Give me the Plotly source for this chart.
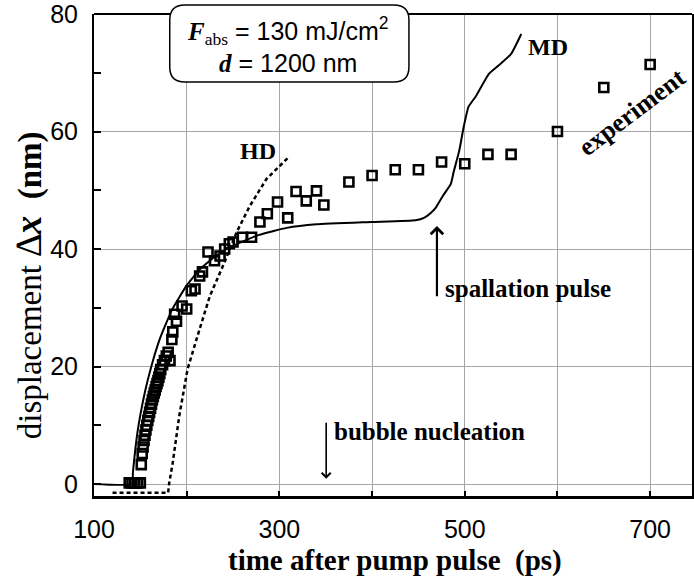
import plotly.graph_objects as go

# ---------------- data ----------------
exp_t = [138, 141, 144, 147, 150, 151, 152, 153, 154, 155, 156, 157, 158, 159, 160,
         161, 162, 163, 164, 165, 166, 167, 168, 169, 170, 171, 172, 174, 176, 178,
         180, 182, 184, 185, 187, 189, 195, 200, 205, 209, 214, 217, 223, 230, 236,
         241, 246, 250, 260, 270, 279, 287, 298, 309, 318, 329, 340, 348,
         375, 400, 425, 450, 475, 500, 525, 550, 600, 650, 700]
exp_dx = [0.2, 0.2, 0.2, 0.2, 0.2, 3.3, 5.2, 6.3, 7.4, 8.3, 9.2, 10.0, 10.8, 11.5, 12.2,
          12.9, 13.6, 14.3, 14.9, 15.5, 16.0, 16.6, 17.1, 17.6, 18.2, 18.8, 19.5, 20.3, 21.0, 21.8,
          22.4, 21.0, 24.6, 25.9, 28.9, 27.7, 30.3, 29.8, 32.9, 33.2, 35.4, 36.1, 39.5, 38.0, 38.8,
          40.0, 40.9, 41.2, 42.0, 42.0, 44.6, 46.0, 48.0, 45.3, 49.8, 48.2, 49.9, 47.5,
          51.4, 52.5, 53.5, 53.5, 54.8, 54.5, 56.1, 56.1, 60.0, 67.5, 71.4]

md_t = [100, 141, 142, 147, 155, 162, 171, 184, 200, 214, 232, 248, 278, 308, 340, 400,
        447, 456, 463, 469, 477, 485, 488, 494, 499, 504, 512, 526, 537, 550, 561]
md_dx = [0, 0, 2.0, 8.9, 15.7, 20.1, 24.7, 29.6, 33.8, 36.5, 38.9, 40.4, 42.4, 43.6, 44.2, 44.6,
         44.9, 45.3, 46.1, 47.1, 49.2, 51.1, 53.1, 56.7, 60.9, 64.2, 66.0, 69.8, 71.3, 73.2, 76.6]

hd_t = [120, 180, 181, 185, 192, 201, 214, 225, 241, 254, 268, 286, 311]
hd_dx = [-1.5, -1.5, 0.0, 3.7, 11.6, 19.6, 26.4, 32.0, 37.8, 42.9, 47.3, 51.9, 55.8]

x_tick_labels = [100, 300, 500, 700]
y_tick_labels = [0, 20, 40, 60, 80]

# ---------------- layout constants ----------------
W, H = 694, 583
ML, MR, MT, MB = 94, 0, 14, 87
PW, PH = W - ML - MR, H - MT - MB

def px(p):
    return (p - ML) / PW

def py(p):
    return (H - MB - p) / PH

SERIF = "Liberation Serif, Times New Roman, serif"
SANS = "Liberation Sans, Arial, sans-serif"
GRID = "#a6a6a6"

fig = go.Figure()

fig.add_trace(go.Scatter(x=hd_t, y=hd_dx, mode="lines",
                         line=dict(color="black", width=2.5, dash="4px,3px"),
                         showlegend=False, hoverinfo="skip"))
fig.add_trace(go.Scatter(x=md_t, y=md_dx, mode="lines",
                         line=dict(color="black", width=2, shape="spline", smoothing=0.4),
                         showlegend=False, hoverinfo="skip"))
fig.add_trace(go.Scatter(x=exp_t, y=exp_dx, mode="markers",
                         marker=dict(symbol="square-open", size=9, color="black",
                                     line=dict(color="black", width=2.6)),
                         showlegend=False))

# rounded box (pixel geometry -> paper)
bx0, bx1, by0, by1, r = 170, 410, 5, 82, 15
path = (f"M{px(bx0 + r)},{py(by0)} L{px(bx1 - r)},{py(by0)} "
        f"Q{px(bx1)},{py(by0)} {px(bx1)},{py(by0 + r)} "
        f"L{px(bx1)},{py(by1 - r)} Q{px(bx1)},{py(by1)} {px(bx1 - r)},{py(by1)} "
        f"L{px(bx0 + r)},{py(by1)} Q{px(bx0)},{py(by1)} {px(bx0)},{py(by1 - r)} "
        f"L{px(bx0)},{py(by0 + r)} Q{px(bx0)},{py(by0)} {px(bx0 + r)},{py(by0)} Z")

shapes = [
    dict(type="line", xref="paper", yref="paper", x0=0, x1=1, y0=1, y1=1,
         line=dict(color="black", width=2), layer="above"),
    dict(type="path", xref="paper", yref="paper", path=path,
         fillcolor="white", line=dict(color="black", width=1.5), layer="above"),
]

ser = f"font-family:{SERIF}"
annotations = [
    dict(xref="paper", yref="paper", x=px(289), y=py(45), showarrow=False,
         xanchor="center", yanchor="middle", align="center",
         font=dict(family=SANS, size=25, color="black"),
         text=(f"<span style='{ser}'><b><i>F</i></b><sub>abs</sub></span> = 130 mJ/cm<sup>2</sup><br>"
               f"<span style='{ser}'><b><i>d</i></b></span> = 1200 nm")),
    dict(x=277, y=56.7, text="<b>HD</b>", showarrow=False,
         font=dict(family=SERIF, size=24, color="black")),
    dict(x=590, y=74.4, text="<b>MD</b>", showarrow=False,
         font=dict(family=SERIF, size=24, color="black")),
    dict(x=680, y=63.3, text="<b>experiment</b>", showarrow=False, textangle=-37,
         font=dict(family=SERIF, size=26, color="black")),
    dict(x=568, y=33.2, text="<b>spallation pulse</b>", showarrow=False,
         font=dict(family=SERIF, size=25, color="black")),
    dict(x=462, y=9.0, text="<b>bubble nucleation</b>", showarrow=False,
         font=dict(family=SERIF, size=25, color="black")),
    dict(x=470, y=43.9, ax=470, ay=31.7, axref="x", ayref="y", xref="x", yref="y",
         text="", showarrow=True, arrowhead=4, arrowsize=1.1, arrowwidth=2.2, arrowcolor="black"),
    dict(x=350.5, y=0.9, ax=350.5, ay=10.7, axref="x", ayref="y", xref="x", yref="y",
         text="", showarrow=True, arrowhead=4, arrowsize=1.1, arrowwidth=1.6, arrowcolor="black"),
    dict(xref="paper", yref="paper", x=px(396), y=py(560), showarrow=False,
         xanchor="center", yanchor="middle",
         text="<b>time after pump pulse\u00a0\u00a0(ps)</b>",
         font=dict(family=SERIF, size=29, color="black")),
    dict(xref="paper", yref="paper", x=px(28), y=py(285), showarrow=False, textangle=-90,
         xanchor="center", yanchor="middle",
         text=("displacement <span style='font-size:37px'>\u2206<b><i>x</i></b></span>"
               "\u00a0\u00a0<b>(nm)</b>"),
         font=dict(family=SERIF, size=33, color="black")),
]

fig.update_layout(
    width=W, height=H,
    margin=dict(l=ML, r=MR, t=MT, b=MB),
    paper_bgcolor="white", plot_bgcolor="white",
    shapes=shapes, annotations=annotations,
    xaxis=dict(range=[100, 100 + PW / 0.93], tickvals=x_tick_labels,
               showgrid=True, gridcolor=GRID, gridwidth=1,
               minor=dict(dtick=100, tick0=100, showgrid=True, gridcolor=GRID, gridwidth=1,
                          ticks="inside", ticklen=5, tickcolor="black", tickwidth=1.5),
               ticks="inside", ticklen=5, tickcolor="black", tickwidth=1.5,
               showline=True, linecolor="black", linewidth=3, zeroline=False,
               tickfont=dict(family=SANS, size=25, color="black"),
               ticklabelstandoff=9, ticklabeloverflow="allow"),
    yaxis=dict(range=[-2.04, 80], tickvals=y_tick_labels,
               showgrid=True, gridcolor=GRID, gridwidth=1,
               minor=dict(dtick=10, tick0=0, showgrid=False,
                          ticks="inside", ticklen=7, tickcolor="black", tickwidth=1.5),
               ticks="inside", ticklen=7, tickcolor="black", tickwidth=1.5,
               showline=True, linecolor="black", linewidth=2, mirror=True, zeroline=False,
               tickfont=dict(family=SANS, size=25, color="black"),
               ticklabelstandoff=9, ticklabeloverflow="allow"),
)

fig.write_html("out.html")
